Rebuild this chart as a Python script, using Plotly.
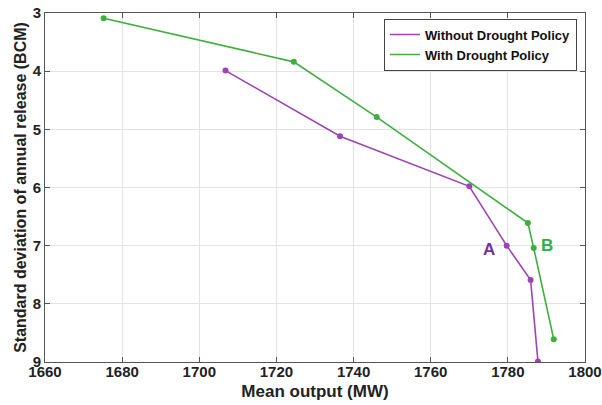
import plotly.graph_objects as go

# points
no_policy_output = [1706.8, 1736.5, 1770.0, 1779.7, 1785.9, 1787.8]
no_policy_sd = [3.99, 5.12, 5.98, 7.0, 7.59, 8.99]

policy_output = [1675.2, 1724.5, 1746.0, 1785.2, 1786.7, 1791.9]
policy_sd = [3.09, 3.84, 4.79, 6.61, 7.04, 8.61]

x_ticks = [1660, 1680, 1700, 1720, 1740, 1760, 1780, 1800]
y_ticks = [3, 4, 5, 6, 7, 8, 9]

PURPLE = '#9B45B2'
GREEN = '#3FAE3F'
FONT = 'Liberation Sans, Arial, sans-serif'

fig = go.Figure()
fig.add_trace(go.Scatter(
    x=no_policy_output, y=no_policy_sd, mode='lines+markers', showlegend=False,
    line=dict(color=PURPLE, width=1.6),
    marker=dict(color=PURPLE, size=6)
))
fig.add_trace(go.Scatter(
    x=policy_output, y=policy_sd, mode='lines+markers', showlegend=False,
    line=dict(color=GREEN, width=1.6),
    marker=dict(color=GREEN, size=6)
))
# legend entries drawn as plain lines, like the original
fig.add_trace(go.Scatter(x=[None], y=[None], mode='lines', name='<b>Without Drought Policy</b>',
                         line=dict(color=PURPLE, width=1.6)))
fig.add_trace(go.Scatter(x=[None], y=[None], mode='lines', name='<b>With Drought Policy</b>',
                         line=dict(color=GREEN, width=1.6)))

# point labels
fig.add_annotation(x=no_policy_output[3], y=no_policy_sd[3], text='<b>A</b>',
                   showarrow=False, xanchor='right', xshift=-10, yshift=-4,
                   font=dict(size=17, color='#7232A3', family=FONT))
fig.add_annotation(x=policy_output[4], y=policy_sd[4], text='<b>B</b>',
                   showarrow=False, xanchor='left', xshift=5, yshift=2,
                   font=dict(size=17, color='#2DB04A', family=FONT))

axis_common = dict(
    showline=True, linecolor='#555555', linewidth=1, mirror='ticks',
    ticks='inside', ticklen=5, tickcolor='#555555',
    showgrid=True, gridcolor='#E3E3E3', gridwidth=1, zeroline=False,
    tickfont=dict(size=15, color='#222222', family=FONT),
    automargin=False,
)

fig.update_xaxes(
    range=[1660, 1800], tickvals=x_ticks, ticktext=[f'<b>{t}</b>' for t in x_ticks],
    title=dict(text='<b>Mean output (MW)</b>', font=dict(size=17, color='#222222', family=FONT), standoff=6),
    ticklabelstandoff=-4,
    **axis_common
)
fig.update_yaxes(
    range=[9, 3], tickvals=y_ticks, ticktext=[f'<b>{t}</b>' for t in y_ticks],
    title=dict(text='<b>Standard deviation of annual release (BCM)</b>',
               font=dict(size=16, color='#222222', family=FONT), standoff=2),
    **axis_common
)

fig.update_layout(
    width=602, height=405,
    margin=dict(l=45, r=17, t=13, b=43),
    plot_bgcolor='white', paper_bgcolor='white',
    legend=dict(x=0.985, y=0.984, xanchor='right', yanchor='top',
                bordercolor='#444444', borderwidth=1, bgcolor='white',
                font=dict(size=13, color='#111111', family=FONT),
                tracegroupgap=0, itemwidth=30),
    font=dict(family=FONT),
)

# drop the default 8px page margin so the figure sits at the window corner
fig.write_html('out.html', config={'displayModeBar': False},
               post_script="document.body.style.margin='0';")
